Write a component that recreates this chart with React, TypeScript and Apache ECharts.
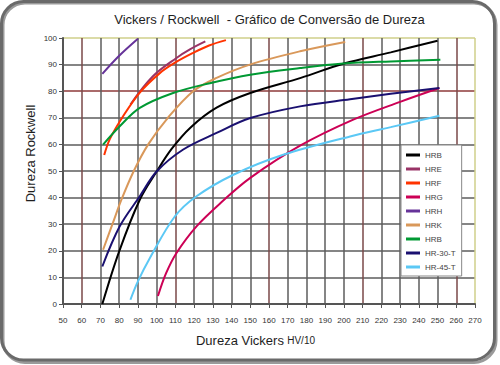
import React, { useEffect, useRef } from 'react';
import * as echarts from 'echarts';

// ---- Data (Vickers HV/10 -> Rockwell) ----
const X_MIN = 50;
const X_MAX = 270;
const X_STEP = 10;
const Y_MIN = 0;
const Y_MAX = 100;
const Y_STEP = 10;

const SERIES_NAMES = ['HRB', 'HRE', 'HRF', 'HRG', 'HRH', 'HRK', 'HRB2', 'HR-30-T', 'HR-45-T'];
const SERIES_COLORS = ['#000000', '#993366', '#FF3300', '#CC0055', '#663399', '#D9985A', '#009933', '#1a1070', '#5BC8F5'];

const HRB_BLACK: number[][] = [[71, 0], [80, 19.8], [91, 39.2], [100, 49.8], [108, 58.3], [118, 66.3], [132, 73.8], [150, 79.3], [177, 85], [200, 90.4], [225, 94.6], [250, 99]];
const HRE: number[][] = [[86, 75], [98, 85.6], [110.6, 92.5], [118, 95.8], [126, 98.7]];
const HRF: number[][] = [[72, 56], [75, 62], [82, 70.5], [91, 79.5], [101.7, 86.8], [110, 90.8], [119.5, 94.4], [128, 97.2], [137, 99.2]];
const HRG: number[][] = [[100.7, 3], [105, 11.5], [110.6, 19.2], [121.3, 29.2], [135, 38.5], [150, 47.4], [176.6, 59.5], [205, 69.3], [230, 76], [251, 81.2]];
const HRH: number[][] = [[71, 86.5], [80, 93.3], [90, 99.7]];
const HRK: number[][] = [[71.4, 20.4], [76.4, 30], [81.2, 39.2], [87.8, 50], [95.5, 60], [106, 70], [119.5, 80], [132, 85], [149.8, 90], [176.6, 95], [200.7, 98.5]];
const HRB_GREEN: number[][] = [[71.4, 59.9], [80.3, 66.8], [91, 73.7], [108.8, 79.3], [128.4, 83], [150, 86.2], [176.6, 88.7], [199.6, 90.4], [225, 91.2], [251.5, 91.8]];
const HR30T: number[][] = [[71, 14.1], [80.3, 29.2], [91, 40.5], [100, 49.8], [114, 58], [132, 64.3], [150, 69.9], [176.6, 74.3], [203.3, 77], [225, 79], [251, 81.2]];
const HR45T: number[][] = [[86, 1.6], [90, 8.5], [96.4, 17.3], [109.7, 32.9], [121.3, 40.5], [141, 48.6], [167.6, 56.1], [203.3, 63], [225, 66.5], [251, 70.8]];

const SERIES_DATA = [HRB_BLACK, HRE, HRF, HRG, HRH, HRK, HRB_GREEN, HR30T, HR45T];

const TITLE = 'Vickers / Rockwell  - Gráfico de Conversão de Dureza';
const Y_NAME = 'Dureza Rockwell';
const X_NAME_MAIN = 'Dureza Vickers';
const X_NAME_UNIT = 'HV/10';

const FONT = 'Liberation Sans, Arial, sans-serif';

const GRID_GREY = '#5c5c5c';
const GRID_RED_V = '#7a4848';
const GRID_RED_H = '#8e3a3a';
const GRID_YELLOW = '#cfcf8a';

function xSplitColors(): string[] {
  const n = Math.round((X_MAX - X_MIN) / X_STEP) + 1;
  const out: string[] = [];
  for (let i = 0; i < n; i++) {
    const v = X_MIN + i * X_STEP;
    if (v === X_MAX) out.push(GRID_YELLOW);
    else if ((v - 60) % 50 === 0) out.push(GRID_RED_V);
    else out.push(GRID_GREY);
  }
  return out;
}

function ySplitColors(): string[] {
  const n = Math.round((Y_MAX - Y_MIN) / Y_STEP) + 1;
  const out: string[] = [];
  for (let i = 0; i < n; i++) {
    const v = Y_MIN + i * Y_STEP;
    if (v === Y_MAX) out.push(GRID_YELLOW);
    else if (v === 80) out.push(GRID_RED_H);
    else out.push(GRID_GREY);
  }
  return out;
}

export default function App() {
  const ref = useRef<HTMLDivElement>(null);

  useEffect(() => {
    if (!ref.current) return;
    const chart = echarts.init(ref.current, undefined, { renderer: 'svg' });

    const option: any = {
      animation: false,
      backgroundColor: '#ffffff',
      textStyle: { fontFamily: FONT },
      grid: { left: 63, right: 25, top: 38, bottom: 61, containLabel: false },
      xAxis: {
        type: 'value',
        min: X_MIN,
        max: X_MAX,
        interval: X_STEP,
        axisLine: { show: true, lineStyle: { color: '#555', width: 2 } },
        axisTick: { show: true, length: 4, lineStyle: { color: '#555', width: 1 } },
        axisLabel: { fontSize: 8, color: '#333', margin: 12, fontFamily: FONT },
        splitLine: { show: true, lineStyle: { color: xSplitColors(), width: 1.5 } },
      },
      yAxis: {
        type: 'value',
        min: Y_MIN,
        max: Y_MAX,
        interval: Y_STEP,
        axisLine: { show: true, lineStyle: { color: '#555', width: 2 } },
        axisTick: { show: true, length: 4, lineStyle: { color: '#555', width: 1 } },
        axisLabel: { fontSize: 8, color: '#333', margin: 6, fontFamily: FONT },
        splitLine: { show: true, lineStyle: { color: ySplitColors(), width: 1.5 } },
      },
      legend: {
        orient: 'vertical',
        left: 401,
        top: 145,
        backgroundColor: '#ffffff',
        borderColor: '#888',
        borderWidth: 1,
        padding: [5, 6, 4, 5],
        itemGap: 4,
        itemWidth: 14,
        itemHeight: 3,
        icon: 'rect',
        data: SERIES_NAMES,
        formatter: (name: string) => (name === 'HRB2' ? 'HRB' : name),
        textStyle: { fontSize: 8, color: '#444', lineHeight: 10, fontFamily: FONT },
      },
      series: SERIES_NAMES.map((name, i) => ({
        name,
        type: 'line',
        data: SERIES_DATA[i],
        smooth: 0.35,
        showSymbol: false,
        symbol: 'none',
        lineStyle: { color: SERIES_COLORS[i], width: 2 },
        itemStyle: { color: SERIES_COLORS[i] },
        z: 3 + i,
      })),
      graphic: [
        {
          type: 'rect',
          z: 100,
          silent: true,
          shape: { x: 3, y: 3, width: 493, height: 359.5, r: 22 },
          style: { fill: 'none', stroke: '#9a9a9a', lineWidth: 3 },
        },
        {
          type: 'rect',
          z: 101,
          silent: true,
          shape: { x: 1.5, y: 1.5, width: 493, height: 358.5, r: 22 },
          style: { fill: 'none', stroke: '#6a6a6a', lineWidth: 3 },
        },
        {
          type: 'text',
          z: 50,
          x: 269.5,
          y: 19.5,
          style: {
            text: TITLE,
            align: 'center',
            verticalAlign: 'middle',
            fontSize: 13,
            fontFamily: FONT,
            fill: '#1e1e1e',
          },
        },
        {
          type: 'text',
          z: 50,
          x: 30,
          y: 153.5,
          rotation: Math.PI / 2,
          style: {
            text: Y_NAME,
            align: 'center',
            verticalAlign: 'middle',
            fontSize: 13,
            fontFamily: FONT,
            fill: '#1e1e1e',
          },
        },
        {
          type: 'text',
          z: 50,
          x: 255.5,
          y: 340,
          style: {
            text: '{a|' + X_NAME_MAIN + '} {b|' + X_NAME_UNIT + '}',
            align: 'center',
            verticalAlign: 'middle',
            rich: {
              a: { fontSize: 13, fontFamily: FONT, fill: '#1e1e1e', color: '#1e1e1e' },
              b: { fontSize: 10, fontFamily: FONT, fill: '#1e1e1e', color: '#1e1e1e' },
            },
          },
        },
      ],
    };

    chart.setOption(option);
    return () => {
      chart.dispose();
    };
  }, []);

  return (
    <div
      ref={ref}
      style={{ position: 'fixed', left: 0, top: 0, width: 500, height: 365, background: '#fff' }}
    />
  );
}
